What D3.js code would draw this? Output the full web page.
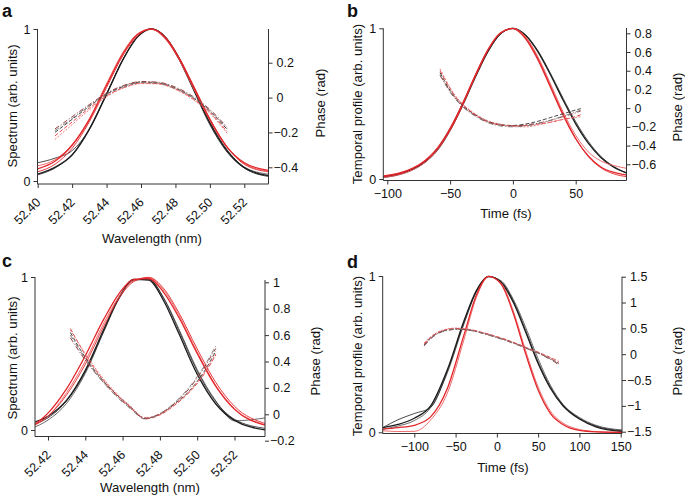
<!DOCTYPE html>
<html><head><meta charset="utf-8">
<script src="https://cdn.jsdelivr.net/npm/d3@7"></script>
<style>
body{margin:0;background:#fff}
svg{display:block}
text{font-family:"Liberation Sans",Arial,Helvetica,sans-serif;fill:#111}
</style>
</head><body>
<svg id="chart" width="685" height="497"></svg>
<script>
// ---------------- Panel a: spectrum vs wavelength ----------------
const aWavelength = [52.400, 52.410, 52.420, 52.430, 52.440, 52.450, 52.458, 52.466, 52.474, 52.482, 52.490, 52.500, 52.510, 52.520, 52.534];
const aSpecRed1   = [0.08, 0.13, 0.235, 0.404, 0.63, 0.847, 0.964, 0.999, 0.942, 0.808, 0.63, 0.404, 0.223, 0.12, 0.07];
const aSpecRed2   = [0.10, 0.14, 0.24, 0.41, 0.64, 0.855, 0.968, 0.998, 0.936, 0.80, 0.62, 0.40, 0.22, 0.115, 0.065];
const aSpecRed3   = [0.06, 0.11, 0.215, 0.39, 0.615, 0.835, 0.955, 1.0, 0.95, 0.815, 0.64, 0.41, 0.225, 0.11, 0.06];
const aSpecBlack1 = [0.045, 0.09, 0.171, 0.34, 0.57, 0.808, 0.948, 1.0, 0.948, 0.808, 0.619, 0.381, 0.199, 0.088, 0.035];
const aSpecBlack2 = [0.12, 0.15, 0.2, 0.34, 0.575, 0.81, 0.95, 1.0, 0.945, 0.80, 0.61, 0.37, 0.19, 0.085, 0.03];
const aSpecBlack3 = [0.04, 0.085, 0.175, 0.345, 0.575, 0.81, 0.948, 1.0, 0.95, 0.815, 0.63, 0.39, 0.205, 0.092, 0.045];
const aPhaseWavelength = [52.410, 52.420, 52.430, 52.440, 52.450, 52.460, 52.470, 52.480, 52.490, 52.500, 52.510];
const aPhase1 = [-0.20, -0.125, -0.05, 0.02, 0.065, 0.089, 0.084, 0.054, 0.0, -0.078, -0.182];
const aPhase2 = [-0.22, -0.14, -0.06, 0.01, 0.058, 0.083, 0.08, 0.05, -0.005, -0.085, -0.195];
const aPhase3 = [-0.18, -0.11, -0.04, 0.025, 0.07, 0.092, 0.088, 0.06, 0.008, -0.068, -0.17];
const aPhase4 = [-0.24, -0.155, -0.07, 0.005, 0.055, 0.08, 0.078, 0.047, -0.01, -0.09, -0.205];
const aPhase5 = [-0.19, -0.12, -0.045, 0.018, 0.062, 0.086, 0.082, 0.052, 0.003, -0.074, -0.178];
const aXTicks = [52.40, 52.42, 52.44, 52.46, 52.48, 52.50, 52.52];
const aPhaseTicks = [-0.4, -0.2, 0, 0.2];

// ---------------- Panel b: temporal profile ----------------
const bTime = [-103, -90, -80, -70, -60, -50, -40, -30, -20, -10, 0, 10, 20, 30, 40, 50, 60, 70, 80, 91];
const bProfBlack1 = [0.015, 0.035, 0.065, 0.115, 0.2, 0.332, 0.498, 0.68, 0.847, 0.963, 1.0, 0.954, 0.844, 0.69, 0.523, 0.366, 0.238, 0.143, 0.08, 0.04];
const bProfBlack2 = [0.01, 0.03, 0.06, 0.11, 0.19, 0.32, 0.485, 0.67, 0.84, 0.96, 1.0, 0.957, 0.85, 0.70, 0.535, 0.38, 0.25, 0.15, 0.085, 0.035];
const bProfRed1   = [0.02, 0.04, 0.07, 0.12, 0.2, 0.325, 0.493, 0.682, 0.854, 0.969, 0.998, 0.932, 0.79, 0.607, 0.423, 0.267, 0.153, 0.08, 0.045, 0.025];
const bProfRed2   = [0.01, 0.03, 0.06, 0.11, 0.195, 0.33, 0.5, 0.69, 0.86, 0.97, 1.0, 0.945, 0.81, 0.63, 0.445, 0.29, 0.18, 0.12, 0.09, 0.07];
const bProfRed3   = [0.015, 0.035, 0.07, 0.125, 0.21, 0.34, 0.505, 0.69, 0.855, 0.965, 0.999, 0.94, 0.8, 0.615, 0.43, 0.27, 0.15, 0.075, 0.035, 0.015];
const bPhaseTime = [-58, -50, -45, -40, -30, -20, -10, 0, 10, 20, 30, 40, 50, 54];
const bPhase1 = [0.38, 0.19, 0.10, 0.03, -0.07, -0.14, -0.175, -0.185, -0.17, -0.14, -0.10, -0.06, -0.02, -0.005];
const bPhase2 = [0.40, 0.21, 0.11, 0.04, -0.07, -0.145, -0.18, -0.19, -0.185, -0.17, -0.15, -0.12, -0.09, -0.07];
const bPhase3 = [0.35, 0.18, 0.09, 0.02, -0.08, -0.15, -0.18, -0.19, -0.18, -0.16, -0.13, -0.09, -0.05, -0.03];
const bPhase4 = [0.42, 0.22, 0.12, 0.045, -0.06, -0.135, -0.17, -0.195, -0.2, -0.18, -0.15, -0.12, -0.1, -0.09];
const bPhase5 = [0.36, 0.17, 0.085, 0.015, -0.085, -0.155, -0.19, -0.2, -0.19, -0.165, -0.13, -0.085, -0.04, -0.02];
const bXTicks = [-100, -50, 0, 50];
const bPhaseTicks = [-0.6, -0.4, -0.2, 0, 0.2, 0.4, 0.6, 0.8];

// ---------------- Panel c: spectrum vs wavelength ----------------
const cWavelength = [52.411, 52.420, 52.430, 52.440, 52.450, 52.458, 52.466, 52.474, 52.482, 52.490, 52.500, 52.510, 52.520, 52.537];
const cSpecRed1   = [0.02, 0.11, 0.27, 0.485, 0.726, 0.89, 0.985, 0.99, 0.9, 0.74, 0.5, 0.285, 0.135, 0.03];
const cSpecRed2   = [0.02, 0.09, 0.245, 0.45, 0.70, 0.87, 0.975, 0.995, 0.915, 0.755, 0.51, 0.29, 0.14, 0.03];
const cSpecRed3   = [0.025, 0.09, 0.23, 0.43, 0.68, 0.86, 0.97, 0.998, 0.925, 0.77, 0.53, 0.31, 0.155, 0.04];
const cSpecBlack1 = [0.045, 0.09, 0.195, 0.39, 0.66, 0.865, 0.985, 0.98, 0.845, 0.635, 0.365, 0.17, 0.063, 0.0];
const cSpecBlack2 = [0.03, 0.08, 0.19, 0.38, 0.65, 0.86, 0.98, 0.985, 0.86, 0.655, 0.385, 0.185, 0.07, 0.01];
const cSpecBlack3 = [0.01, 0.065, 0.175, 0.37, 0.645, 0.855, 0.98, 0.988, 0.865, 0.665, 0.395, 0.19, 0.06, 0.08];
const cPhaseWavelength = [52.432, 52.440, 52.448, 52.456, 52.464, 52.472, 52.480, 52.488, 52.496, 52.504, 52.510];
const cPhase1 = [0.62, 0.43, 0.28, 0.16, 0.06, -0.03, 0.0, 0.08, 0.18, 0.33, 0.48];
const cPhase2 = [0.65, 0.45, 0.29, 0.16, 0.055, -0.035, -0.005, 0.07, 0.17, 0.31, 0.45];
const cPhase3 = [0.58, 0.41, 0.27, 0.15, 0.05, -0.03, 0.005, 0.085, 0.2, 0.36, 0.50];
const cPhase4 = [0.64, 0.46, 0.30, 0.17, 0.065, -0.025, 0.0, 0.075, 0.175, 0.32, 0.46];
const cPhase5 = [0.60, 0.42, 0.27, 0.145, 0.045, -0.035, 0.005, 0.09, 0.21, 0.37, 0.52];
const cXTicks = [52.42, 52.44, 52.46, 52.48, 52.50, 52.52];
const cPhaseTicks = [-0.2, 0, 0.2, 0.4, 0.6, 0.8, 1];

// ---------------- Panel d: temporal profile ----------------
const dTime = [-138, -120, -100, -80, -60, -40, -25, -10, 5, 20, 35, 50, 65, 80, 100, 120, 152];
const dProfBlack1 = [0.03, 0.05, 0.09, 0.17, 0.40, 0.71, 0.905, 0.998, 0.96, 0.83, 0.64, 0.44, 0.28, 0.17, 0.085, 0.035, 0.005];
const dProfBlack2 = [0.03, 0.08, 0.12, 0.16, 0.39, 0.70, 0.9, 0.997, 0.965, 0.84, 0.65, 0.45, 0.29, 0.175, 0.09, 0.04, 0.01];
const dProfBlack3 = [0.02, 0.04, 0.075, 0.16, 0.38, 0.69, 0.895, 0.995, 0.97, 0.85, 0.67, 0.47, 0.30, 0.18, 0.095, 0.045, 0.015];
const dProfRed1   = [0.02, 0.03, 0.045, 0.1, 0.28, 0.62, 0.875, 0.998, 0.95, 0.76, 0.5, 0.27, 0.12, 0.05, 0.012, 0.003, 0.0];
const dProfRed2   = [0.01, 0.005, 0.006, 0.08, 0.25, 0.59, 0.86, 0.995, 0.955, 0.775, 0.52, 0.29, 0.135, 0.06, 0.018, 0.005, 0.0];
const dPhaseTime = [-88, -80, -70, -60, -50, -40, -30, -20, -10, 0, 10, 20, 30, 40, 50, 60, 70, 75];
const dPhase1 = [0.18, 0.32, 0.42, 0.47, 0.49, 0.48, 0.46, 0.42, 0.38, 0.33, 0.28, 0.22, 0.16, 0.09, 0.03, -0.05, -0.13, -0.18];
const dPhase2 = [0.2, 0.33, 0.43, 0.48, 0.5, 0.49, 0.47, 0.43, 0.39, 0.34, 0.29, 0.23, 0.17, 0.1, 0.04, -0.03, -0.1, -0.14];
const dPhase3 = [0.16, 0.3, 0.41, 0.46, 0.48, 0.475, 0.455, 0.415, 0.37, 0.32, 0.27, 0.21, 0.15, 0.085, 0.02, -0.06, -0.15, -0.21];
const dPhase4 = [0.22, 0.34, 0.44, 0.49, 0.505, 0.495, 0.47, 0.43, 0.385, 0.335, 0.285, 0.225, 0.16, 0.095, 0.03, -0.04, -0.12, -0.17];
const dPhase5 = [0.17, 0.31, 0.415, 0.465, 0.485, 0.48, 0.46, 0.42, 0.375, 0.325, 0.275, 0.215, 0.155, 0.09, 0.025, -0.05, -0.14, -0.2];
const dXTicks = [-100, -50, 0, 50, 100, 150];
const dPhaseTicks = [-1.5, -1, -0.5, 0, 0.5, 1, 1.5];

// ---------------- styles ----------------
const RED = "#e2262a", RED_T = "#ec5d5f", BLACK = "#1c1c1c", GRAY = "#5a5a5a";
const specStyles = {
  red1:  {stroke: RED, w: 1.3}, red2: {stroke: RED_T, w: 0.9}, red3: {stroke: RED, w: 0.9},
  black1:{stroke: BLACK, w: 1.3}, black2:{stroke: BLACK, w: 0.8}, black3:{stroke: GRAY, w: 0.9}
};
const phaseStyles = [
  {stroke: "#333", dash: "4,2"},
  {stroke: "#e0393c", dash: "4,2"},
  {stroke: "#8e2b2b", dash: "5,2,1,2"},
  {stroke: "#e86a6a", dash: "2,1.5"},
  {stroke: "#777", dash: "5,2,1,2"}
];
const TICK_FS = 12.5, TITLE_FS = 13.2;

const svg = d3.select("#chart");
const minusFmt = v => (v < 0 ? "\u2212" : "") + Math.abs(v);
const fmt2 = v => d3.format(".2f")(v);

function drawPanel(cfg) {
  const g = svg.append("g");
  const x = d3.scaleLinear().domain(cfg.xFrom).range(cfg.xTo);
  const y = d3.scaleLinear().domain([0, 1]).range([cfg.yZero, cfg.yOne]);
  const yp = d3.scaleLinear().domain(cfg.phFrom).range(cfg.phTo);

  const clipId = "clip-" + cfg.letter;
  svg.append("clipPath").attr("id", clipId).append("rect")
    .attr("x", cfg.left).attr("y", cfg.yOne - 4)
    .attr("width", cfg.right - cfg.left).attr("height", cfg.xAxisY - cfg.yOne + 4);
  const plot = g.append("g").attr("clip-path", `url(#${clipId})`);

  const lineS = d3.line().x(d => x(d[0])).y(d => y(d[1])).curve(d3.curveMonotoneX);
  const lineP = d3.line().x(d => x(d[0])).y(d => yp(d[1])).curve(d3.curveMonotoneX);

  cfg.spectra.forEach(s => {
    plot.append("path").datum(d3.zip(cfg.xs, s.values))
      .attr("d", lineS).attr("fill", "none")
      .attr("stroke", specStyles[s.style].stroke).attr("stroke-width", specStyles[s.style].w);
  });
  cfg.phases.forEach((vals, i) => {
    const st = phaseStyles[i % phaseStyles.length];
    plot.append("path").datum(d3.zip(cfg.pxs, vals))
      .attr("d", lineP).attr("fill", "none")
      .attr("stroke", st.stroke).attr("stroke-width", 0.9).attr("stroke-dasharray", st.dash);
  });

  const axc = "#333";
  g.append("line").attr("x1", cfg.left).attr("x2", cfg.left).attr("y1", cfg.yOne).attr("y2", cfg.xAxisY).attr("stroke", axc);
  g.append("line").attr("x1", cfg.left).attr("x2", cfg.right).attr("y1", cfg.xAxisY).attr("y2", cfg.xAxisY).attr("stroke", axc);
  g.append("line").attr("x1", cfg.right).attr("x2", cfg.right).attr("y1", cfg.phTop).attr("y2", cfg.xAxisY).attr("stroke", axc);

  const la = g.append("g").attr("transform", `translate(${cfg.left},0)`)
    .call(d3.axisLeft(y).tickValues([0, 1]).tickSize(4).tickPadding(3).tickFormat(d3.format("d")));
  la.select(".domain").remove();
  la.selectAll("line").attr("stroke", axc);
  la.selectAll("text").attr("font-size", TICK_FS).attr("font-family", "Liberation Sans, Arial, sans-serif").attr("fill", "#111");

  const ba = g.append("g").attr("transform", `translate(0,${cfg.xAxisY})`)
    .call(d3.axisBottom(x).tickValues(cfg.xTicks).tickSize(4).tickPadding(4)
      .tickFormat(cfg.rotate ? fmt2 : minusFmt));
  ba.select(".domain").remove();
  ba.selectAll("line").attr("stroke", axc);
  const bt = ba.selectAll("text").attr("font-size", TICK_FS).attr("font-family", "Liberation Sans, Arial, sans-serif").attr("fill", "#111");
  if (cfg.rotate) {
    bt.attr("text-anchor", "end").attr("x", 0).attr("y", 0).attr("dy", "0.35em")
      .attr("transform", "translate(0,16) rotate(-45)");
  } else {
    bt.attr("y", 9).attr("dy", "0.71em");
  }

  const ra = g.append("g").attr("transform", `translate(${cfg.right},0)`)
    .call(d3.axisRight(yp).tickValues(cfg.phTicks).tickSize(4).tickPadding(3).tickFormat(minusFmt));
  ra.select(".domain").remove();
  ra.selectAll("line").attr("stroke", axc);
  ra.selectAll("text").attr("font-size", TICK_FS).attr("font-family", "Liberation Sans, Arial, sans-serif").attr("fill", "#111")
    .attr("x", d => d < 0 ? 5 : 8);

  g.append("text").attr("transform", `translate(${cfg.yTitleX},${cfg.yTitleY}) rotate(-90)`)
    .attr("text-anchor", "middle").attr("dy", "0.35em").attr("font-size", TITLE_FS).text(cfg.yTitle);
  g.append("text").attr("transform", `translate(${cfg.pTitleX},${cfg.pTitleY}) rotate(-90)`)
    .attr("text-anchor", "middle").attr("dy", "0.35em").attr("font-size", TITLE_FS).text("Phase (rad)");
  g.append("text").attr("x", cfg.xTitleX).attr("y", cfg.xTitleY)
    .attr("text-anchor", "middle").attr("font-size", TITLE_FS).text(cfg.xTitle);
  g.append("text").attr("x", cfg.lx).attr("y", cfg.ly)
    .attr("font-size", 18).attr("font-weight", "bold").text(cfg.letter);
}

drawPanel({
  letter: "a", lx: 2, ly: 17,
  xs: aWavelength, pxs: aPhaseWavelength,
  spectra: [
    {values: aSpecBlack3, style: "black3"}, {values: aSpecBlack2, style: "black2"}, {values: aSpecBlack1, style: "black1"},
    {values: aSpecRed2, style: "red2"}, {values: aSpecRed3, style: "red3"}, {values: aSpecRed1, style: "red1"}
  ],
  phases: [aPhase1, aPhase2, aPhase3, aPhase4, aPhase5],
  xFrom: [52.40, 52.52], xTo: [37.7, 244.3], xTicks: aXTicks, rotate: true,
  left: 37.5, right: 268.5, yZero: 181, yOne: 29, xAxisY: 184,
  phFrom: [-0.4, 0.2], phTo: [167.3, 62.7], phTop: 29, phTicks: aPhaseTicks,
  yTitle: "Spectrum (arb. units)", yTitleX: 12, yTitleY: 106,
  pTitleX: 320, pTitleY: 103, xTitle: "Wavelength (nm)", xTitleX: 152, xTitleY: 243
});

drawPanel({
  letter: "b", lx: 347, ly: 17,
  xs: bTime, pxs: bPhaseTime,
  spectra: [
    {values: bProfBlack2, style: "black2"}, {values: bProfBlack1, style: "black1"},
    {values: bProfRed2, style: "red2"}, {values: bProfRed3, style: "red3"}, {values: bProfRed1, style: "red1"}
  ],
  phases: [bPhase1, bPhase2, bPhase3, bPhase4, bPhase5],
  xFrom: [-100, 50], xTo: [387.3, 575.7], xTicks: bXTicks, rotate: false,
  left: 383.3, right: 626.5, yZero: 179, yOne: 28.3, xAxisY: 180.5,
  phFrom: [-0.6, 0.8], phTo: [164.3, 33.3], phTop: 28, phTicks: bPhaseTicks,
  yTitle: "Temporal profile (arb. units)", yTitleX: 357.5, yTitleY: 104,
  pTitleX: 677, pTitleY: 107, xTitle: "Time (fs)", xTitleX: 506, xTitleY: 218
});

drawPanel({
  letter: "c", lx: 2, ly: 267,
  xs: cWavelength, pxs: cPhaseWavelength,
  spectra: [
    {values: cSpecBlack3, style: "black3"}, {values: cSpecBlack2, style: "black2"}, {values: cSpecBlack1, style: "black1"},
    {values: cSpecRed2, style: "red2"}, {values: cSpecRed3, style: "red3"}, {values: cSpecRed1, style: "red1"}
  ],
  phases: [cPhase1, cPhase2, cPhase3, cPhase4, cPhase5],
  xFrom: [52.42, 52.52], xTo: [48, 234.5], xTicks: cXTicks, rotate: true,
  left: 35, right: 265, yZero: 430, yOne: 277, xAxisY: 436.5,
  phFrom: [-0.2, 1], phTo: [440.7, 282.3], phTop: 280, phTicks: cPhaseTicks,
  yTitle: "Spectrum (arb. units)", yTitleX: 12, yTitleY: 358,
  pTitleX: 315, pTitleY: 361, xTitle: "Wavelength (nm)", xTitleX: 150, xTitleY: 492
});

drawPanel({
  letter: "d", lx: 347, ly: 268,
  xs: dTime, pxs: dPhaseTime,
  spectra: [
    {values: dProfBlack3, style: "black3"}, {values: dProfBlack2, style: "black2"}, {values: dProfBlack1, style: "black1"},
    {values: dProfRed2, style: "red2"}, {values: dProfRed1, style: "red1"}
  ],
  phases: [dPhase1, dPhase2, dPhase3, dPhase4, dPhase5],
  xFrom: [-100, 150], xTo: [414.3, 620.7], xTicks: dXTicks, rotate: false,
  left: 382.7, right: 622, yZero: 432.3, yOne: 276, xAxisY: 433.5,
  phFrom: [-1.5, 1.5], phTo: [431.7, 276.7], phTop: 276.7, phTicks: dPhaseTicks,
  yTitle: "Temporal profile (arb. units)", yTitleX: 357.5, yTitleY: 356,
  pTitleX: 677, pTitleY: 361, xTitle: "Time (fs)", xTitleX: 503, xTitleY: 472
});
</script>
</body></html>
